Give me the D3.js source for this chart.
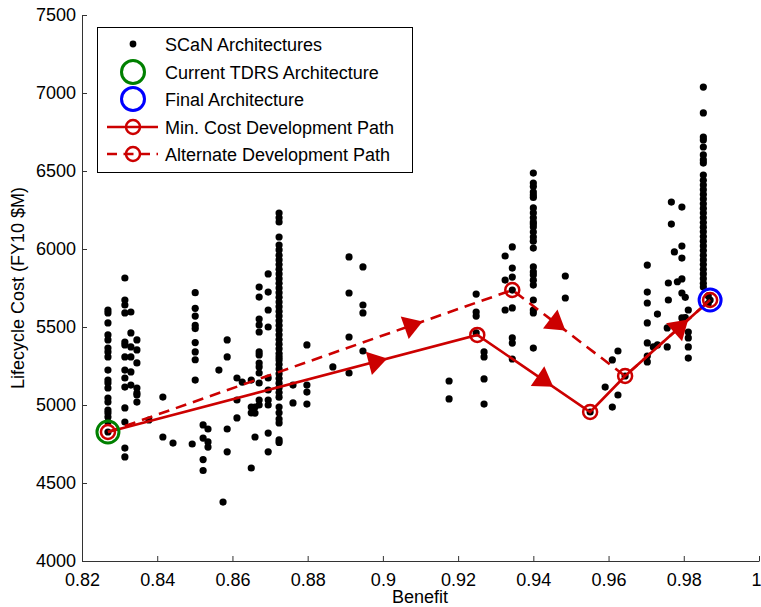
<!DOCTYPE html>
<html>
<head>
<meta charset="utf-8">
<script src="https://cdn.jsdelivr.net/npm/d3@7"></script>
<style>
  body { margin: 0; background: #fff; }
  svg { font-family: "Liberation Sans", Arial, Helvetica, sans-serif; }
</style>
</head>
<body>
<svg id="chart" width="761" height="607"></svg>
<script>
// axis ticks
const xTicks = [0.82, 0.84, 0.86, 0.88, 0.9, 0.92, 0.94, 0.96, 0.98, 1];
const xTickLabels = ['0.82', '0.84', '0.86', '0.88', '0.9', '0.92', '0.94', '0.96', '0.98', '1'];
const yTicks = [4000, 4500, 5000, 5500, 6000, 6500, 7000, 7500];

// SCaN architectures: [benefit, [costs...]]
const scanColumns = [
  [0.8269, [5609, 5590, 5526, 5449, 5417, 5365, 5340, 5308, 5224, 5160, 5141, 5109, 5045, 5019, 4968, 4949, 4923, 4891, 4827]],
  [0.8314, [5814, 5673, 5641, 5590, 5404, 5385, 5308, 5224, 5173, 5115, 4981, 4891, 4724, 4667]],
  [0.8330, [5596, 5462, 5372, 5308, 5212, 5128]],
  [0.8346, [5417, 5353, 5270, 5109, 5077, 5019, 5064]],
  [0.8378, [4904]],
  [0.8415, [5051, 4795]],
  [0.8442, [4756]],
  [0.8493, [4750]],
  [0.8501, [5720, 5620, 5570, 5510, 5490, 5400, 5340, 5290, 5160]],
  [0.8522, [4872, 4788, 4650, 4580]],
  [0.8535, [4846, 4763, 4730]],
  [0.8564, [5224]],
  [0.8575, [4378]],
  [0.8586, [5417, 5308, 4846, 4700]],
  [0.8612, [5173, 5032, 4917]],
  [0.8626, [5147]],
  [0.8650, [5160, 4596, 4987, 4950]],
  [0.8660, [4987, 4948, 4795]],
  [0.8671, [5756, 5692, 5551, 5513, 5468, 5340, 5321, 5269, 5244, 5205, 5141, 5032, 5000]],
  [0.8695, [5840, 5724, 5609, 5500, 5173, 5096, 5032, 5000, 4820, 4700]],
  [0.8724, [6230, 6200, 6173, 6077, 6025, 5994, 5960, 5930, 5900, 5870, 5840, 5810, 5780, 5750, 5720, 5690, 5660,
            5630, 5600, 5570, 5540, 5510, 5480, 5450, 5420, 5390, 5360, 5330, 5308, 5289, 5260, 5230, 5200, 5170,
            5140, 5110, 5080, 5050, 4987, 4950, 4910, 4885, 4776, 4760]],
  [0.8761, [5128, 5013]],
  [0.8798, [5385, 5128, 5083, 5006]],
  [0.8867, [5244]],
  [0.8910, [5949, 5718, 5436, 5205]],
  [0.8947, [5885, 5641, 5590, 5346]],
  [0.9176, [5154, 5039]],
  [0.9248, [5711, 5596, 5570, 5462]],
  [0.9269, [5340, 5308, 5167, 5006]],
  [0.9325, [5955, 5801, 5609]],
  [0.9344, [6013, 5878, 5820, 5737, 5622, 5430, 5397, 5295]],
  [0.9400, [6487, 6423, 6400, 6365, 6346, 6330, 6263, 6231, 6200, 6173, 6160, 6141, 6109, 6077, 6050, 6006,
            5885, 5853, 5833, 5800, 5769, 5673, 5609, 5590, 5365]],
  [0.9485, [5827, 5686]],
  [0.9551, [4955]],
  [0.9591, [5115]],
  [0.9610, [5289, 4987]],
  [0.9625, [5346, 5064]],
  [0.9644, [5186]],
  [0.9703, [5897, 5724, 5654, 5526, 5398, 5314, 5276]],
  [0.9719, [5372]],
  [0.9730, [5583, 5385]],
  [0.9756, [5494, 5372]],
  [0.9759, [5782, 5673]],
  [0.9767, [6301, 6160]],
  [0.9775, [5981]],
  [0.9783, [5790]],
  [0.9795, [6269, 6019, 5942, 5808, 5718, 5558]],
  [0.9804, [5690, 5560]],
  [0.9812, [5609, 5468, 5430, 5372, 5301]],
  [0.9852, [7038, 6872, 6718, 6699, 6654, 6603, 6571, 6551, 6474, 6440, 6410, 6380, 6350, 6320, 6290, 6260, 6230,
            6200, 6170, 6140, 6110, 6080, 6050, 6020, 5990, 5960, 5930, 5900, 5870, 5840, 5810, 5780, 5756]],
  [0.9865, [5700, 5650]],
  [0.9870, [5673]]
];

// architectures and paths
const currentArch = [0.8269, 4827];
const finalArch = [0.9870, 5673];
const minCostBenefit = [0.8269, 0.9251, 0.9551, 0.9644, 0.9870];
const minCostCost = [4827, 5449, 4955, 5186, 5673];
const altBenefit = [0.8269, 0.9344, 0.9644, 0.9870];
const altCost = [4827, 5737, 5186, 5673];
// arrow heads: segment index and position along it
const minCostArrows = [[0, 0.73], [1, 0.6], [3, 0.655]];
const altArrows = [[0, 0.755], [1, 0.4]];

const legendLabels = ['SCaN Architectures', 'Current TDRS Architecture', 'Final Architecture',
  'Min. Cost Development Path', 'Alternate Development Path'];

const red = '#cc0000';
const svg = d3.select('#chart');

let x = d3.scaleLinear().domain([0.82, 1]).range([82, 759]);
let y = d3.scaleLinear().domain([4000, 7500]).range([561, 15]);

// axes
let xAxis = d3.axisBottom(x)
  .tickValues(xTicks)
  .tickFormat((d, i) => xTickLabels[i])
  .tickSizeInner(-5).tickSizeOuter(0).tickPadding(10);
let yAxis = d3.axisLeft(y)
  .tickValues(yTicks)
  .tickFormat(d3.format('d'))
  .tickSizeInner(-5).tickSizeOuter(0).tickPadding(6);

let gx = svg.append('g').attr('transform', 'translate(0,561)').call(xAxis);
let gy = svg.append('g').attr('transform', 'translate(82,0)').call(yAxis);
[gx, gy].forEach(g => {
  g.select('.domain').attr('stroke', '#333');
  g.selectAll('.tick line').attr('stroke', '#333');
  g.selectAll('.tick text').attr('fill', '#000').style('font-size', '18px');
});
gx.selectAll('.tick text').attr('dy', '0.85em');
// last label sits on the window edge, nudge it in
gx.selectAll('.tick text').filter(d => d === 1).attr('dx', '-3');

svg.append('text')
  .attr('x', 420).attr('y', 603)
  .attr('text-anchor', 'middle')
  .style('font-size', '18px')
  .text('Benefit');

svg.append('text')
  .attr('transform', 'translate(24,288) rotate(-90)')
  .attr('text-anchor', 'middle')
  .style('font-size', '18px')
  .text('Lifecycle Cost (FY10 $M)');

// scatter
let pts = [];
scanColumns.forEach(c => c[1].forEach(v => pts.push([c[0], v])));
svg.append('g').selectAll('circle')
  .data(pts)
  .enter()
  .append('circle')
  .attr('cx', d => x(d[0]))
  .attr('cy', d => y(d[1]))
  .attr('r', 3.6)
  .attr('fill', '#000');

// development paths
let line = d3.line().x(d => x(d[0])).y(d => y(d[1]));
let minCost = minCostBenefit.map((b, i) => [b, minCostCost[i]]);
let alt = altBenefit.map((b, i) => [b, altCost[i]]);

svg.append('path')
  .attr('d', line(alt))
  .attr('fill', 'none')
  .attr('stroke', red)
  .attr('stroke-width', 2.6)
  .attr('stroke-dasharray', '11,7');

svg.append('path')
  .attr('d', line(minCost))
  .attr('fill', 'none')
  .attr('stroke', red)
  .attr('stroke-width', 2.6);

function drawArrows(pathPts, arrows) {
  arrows.forEach(a => {
    let p0 = [x(pathPts[a[0]][0]), y(pathPts[a[0]][1])];
    let p1 = [x(pathPts[a[0] + 1][0]), y(pathPts[a[0] + 1][1])];
    let cx = p0[0] + (p1[0] - p0[0]) * a[1];
    let cy = p0[1] + (p1[1] - p0[1]) * a[1];
    let ang = Math.atan2(p1[1] - p0[1], p1[0] - p0[0]) * 180 / Math.PI;
    svg.append('path')
      .attr('d', 'M10,0 L-9,-12 L-9,12 Z')
      .attr('transform', `translate(${cx},${cy}) rotate(${ang})`)
      .attr('fill', red);
  });
}
drawArrows(minCost, minCostArrows);
drawArrows(alt, altArrows);

// path markers
let markerPts = minCost.concat([alt[1]]);
svg.append('g').selectAll('circle')
  .data(markerPts)
  .enter()
  .append('circle')
  .attr('cx', d => x(d[0]))
  .attr('cy', d => y(d[1]))
  .attr('r', 7)
  .attr('fill', 'none')
  .attr('stroke', red)
  .attr('stroke-width', 2.5);

svg.append('circle')
  .attr('cx', x(currentArch[0])).attr('cy', y(currentArch[1]))
  .attr('r', 11).attr('fill', 'none')
  .attr('stroke', '#008000').attr('stroke-width', 3);
svg.append('circle')
  .attr('cx', x(finalArch[0])).attr('cy', y(finalArch[1]))
  .attr('r', 11).attr('fill', 'none')
  .attr('stroke', '#0000ff').attr('stroke-width', 3);

// legend
let lg = svg.append('g');
lg.append('rect')
  .attr('x', 97.5).attr('y', 27.5)
  .attr('width', 315).attr('height', 145)
  .attr('fill', '#fff').attr('stroke', '#000');

let rowY = [44, 72, 99, 127, 154];
lg.selectAll('text')
  .data(legendLabels)
  .enter()
  .append('text')
  .attr('x', 165)
  .attr('y', (d, i) => rowY[i] + 6.5)
  .style('font-size', '18px')
  .text(d => d);

lg.append('circle').attr('cx', 133).attr('cy', rowY[0]).attr('r', 3.4).attr('fill', '#000');
lg.append('circle').attr('cx', 133).attr('cy', rowY[1]).attr('r', 11.5)
  .attr('fill', 'none').attr('stroke', '#008000').attr('stroke-width', 3);
lg.append('circle').attr('cx', 133).attr('cy', rowY[2]).attr('r', 11.5)
  .attr('fill', 'none').attr('stroke', '#0000ff').attr('stroke-width', 3);
lg.append('line').attr('x1', 107).attr('x2', 158).attr('y1', rowY[3]).attr('y2', rowY[3])
  .attr('stroke', red).attr('stroke-width', 2.6);
lg.append('line').attr('x1', 107).attr('x2', 158).attr('y1', rowY[4]).attr('y2', rowY[4])
  .attr('stroke', red).attr('stroke-width', 2.6).attr('stroke-dasharray', '10,6.5');
[rowY[3], rowY[4]].forEach(ry => {
  lg.append('circle').attr('cx', 133).attr('cy', ry).attr('r', 7)
    .attr('fill', 'none').attr('stroke', red).attr('stroke-width', 2.5);
});
</script>
</body>
</html>
